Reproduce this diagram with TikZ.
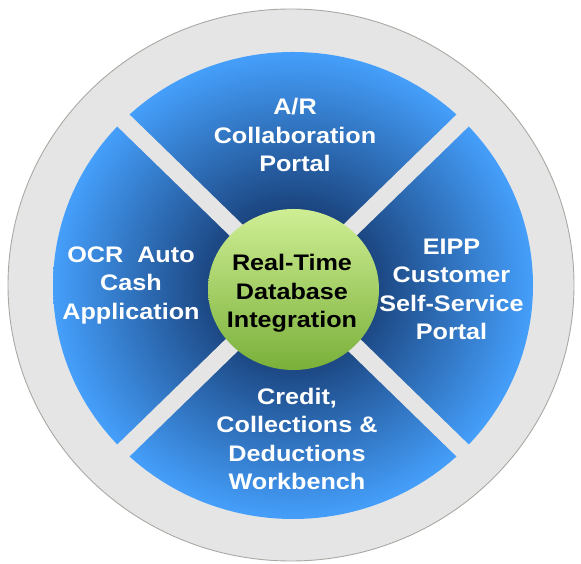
\documentclass[tikz,border=0pt]{standalone}
\usepackage{fontspec}
\setmainfont{Liberation Sans}[FakeStretch=1.12]
\usetikzlibrary{shapes.geometric}
\definecolor{cRing}{HTML}{E5E5E5}
\definecolor{cRim}{HTML}{A9A9A3}
\definecolor{cNavy}{HTML}{1A437D}
\definecolor{cSky}{HTML}{459FFB}
\definecolor{cLime}{HTML}{CFEE94}
\definecolor{cMoss}{HTML}{7AB03A}
\pgfdeclareradialshading{discglow}{\pgfpoint{0bp}{0bp}}%
  {color(0bp)=(cNavy);color(8bp)=(cNavy);color(25bp)=(cSky);color(50bp)=(cSky)}

\begin{document}
\begin{tikzpicture}[
 x=1pt,y=1pt,
 font=\fontsize{22.5}{28.5}\selectfont\bfseries,
 ring/.style={ellipse,draw=cRim,line width=.9pt,fill=cRing,inner sep=0pt,
   minimum width=566pt,minimum height=552pt},
 disc/.style={ellipse,shade,shading=discglow,inner sep=0pt,
   minimum width=480pt,minimum height=467pt},
 gap/.style={draw=cRing,line width=17pt,shorten <=-4pt,shorten >=-4pt},
 hub/.style={ellipse,shade,top color=cLime,bottom color=cMoss,inner sep=0pt,
   minimum width=171pt,minimum height=161pt},
 part/.style={align=center,text=white}]
\path[use as bounding box] (0,0) rectangle (581,564);

\node[ring] (outer) at (291,279) {};
\node[disc] (wheel) at (293,278.5) {};
% grey cross between the four parts
\draw[gap] (wheel.north west) -- (wheel.south east);
\draw[gap] (wheel.north east) -- (wheel.south west);

\node[hub] (core) at (293.5,274.5) {};
\node[part,text=black] (coretext) at (292,270.5) {Real-Time\\Database\\Integration};

\node[part] (portal) at (295,429) {A/R\\Collaboration\\Portal};
\node[part] (eipp) at (451.5,274.5) {EIPP\\Customer\\Self-Service\\Portal};
\node[part] (credit) at (297,125) {Credit,\\Collections \&\\Deductions\\Workbench};
\node[part] (ocr) at (131,279) {OCR\ \ Auto\\Cash\\Application};
\end{tikzpicture}
\end{document}
